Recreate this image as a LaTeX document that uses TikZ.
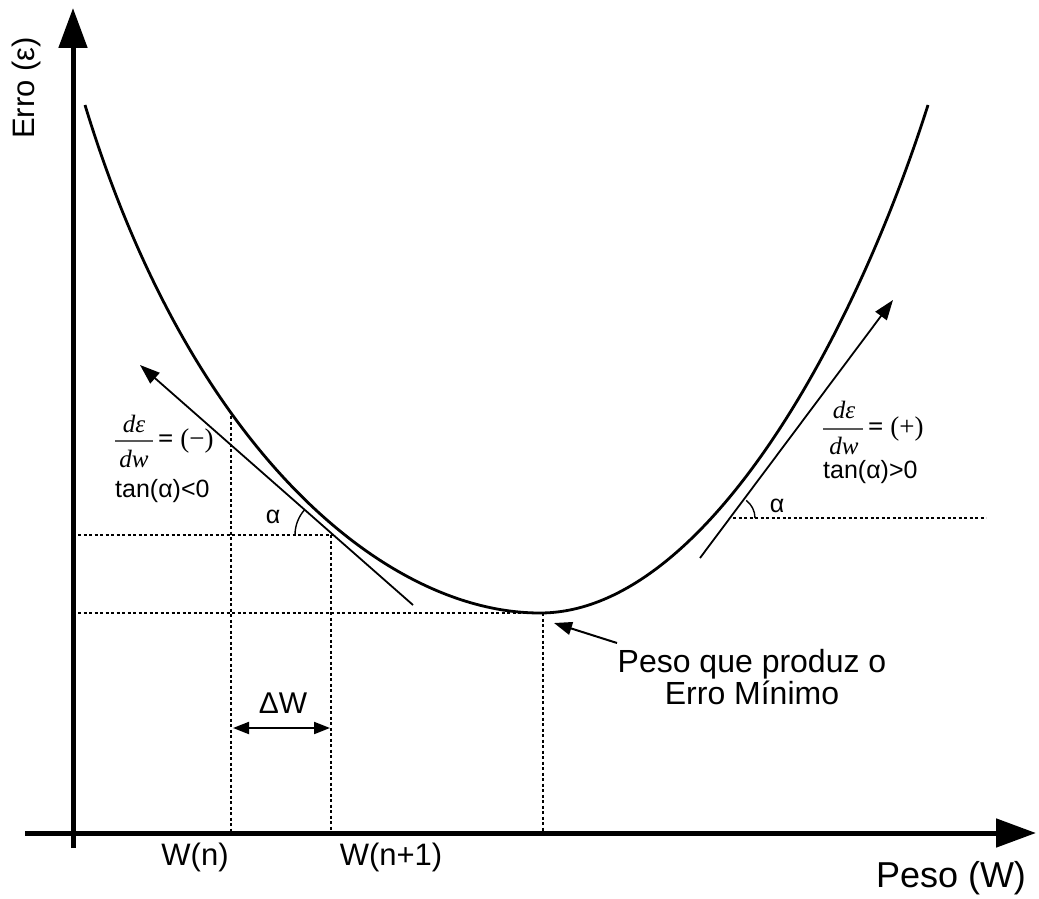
\documentclass[tikz,border=0pt]{standalone}
\usepackage{fontspec}
\setmainfont{Liberation Sans}
\newfontfamily\tms{Liberation Serif}
\usetikzlibrary{arrows.meta}
\begin{document}
\begin{tikzpicture}[x=1pt,y=-1pt,
  axis/.style={line width=5pt,-{Triangle[length=40pt,width=28pt]}},
  curve/.style={line width=2.8pt},
  tang/.style={line width=1.8pt,-{Triangle[length=20pt,width=14pt]}},
  guide/.style={line width=1.4pt,dash pattern=on 3pt off 2.5pt},
  lbl/.style={font=\fontsize{30}{34}\selectfont,inner sep=0pt},
  sm/.style={font=\fontsize{25}{28}\selectfont,inner sep=0pt},
  fracpart/.style={font=\fontsize{25}{27}\selectfont\tms\itshape,inner sep=0pt},
  fracrest/.style={font=\fontsize{27}{28}\selectfont\tms,inner sep=0pt,anchor=west},
  fracbar/.style={line width=2pt,black!65}]
\useasboundingbox (0,0) rectangle (1039,899);
% axes
\coordinate (yb) at (73,848);
\coordinate (yt) at (73,8);
\coordinate (xl) at (25,833);
\coordinate (xr) at (1036,833);
\draw[axis] (yb) -- (yt);
\draw[axis] (xl) -- (xr);
\node[lbl,rotate=90,font=\fontsize{31}{34}\selectfont] (ylab) at (26,88) {Erro (ε)};
\node[lbl,font=\fontsize{36}{40}\selectfont] (xlab) at (951,878) {Peso (W)};
% curve
\coordinate (c0) at (85,105);
\coordinate (cm) at (540,613);
\coordinate (c1) at (928,105);
\draw[curve] (c0) .. controls (190,450) and (385,613) .. (cm)
  .. controls (700,613) and (850,350) .. (c1);
% guides
\coordinate (h1a) at (78,535); \coordinate (h1b) at (333,535);
\coordinate (h2a) at (78,613);
\coordinate (v1a) at (231,416); \coordinate (v1b) at (231,833);
\coordinate (v2a) at (331,535); \coordinate (v2b) at (331,833);
\coordinate (v3b) at (543,833); \coordinate (v3a) at (543,613);
\coordinate (h3a) at (733,518); \coordinate (h3b) at (986,518);
\draw[guide] (h1a) -- (h1b);
\draw[guide] (h2a) -- (cm);
\draw[guide] (v1a) -- (v1b);
\draw[guide] (v2a) -- (v2b);
\draw[guide] (v3a) -- (v3b);
\draw[guide] (h3a) -- (h3b);
% tangents
\coordinate (t1a) at (413,605); \coordinate (t1b) at (140,365);
\coordinate (t2a) at (700,558); \coordinate (t2b) at (893,300);
\draw[tang] (t1a) -- (t1b);
\draw[tang] (t2a) -- (t2b);
% angle arcs
\draw[line width=1.4pt] (295,535) arc[start angle=180,end angle=221.3,radius=38];
\draw[line width=1.4pt] (755,518) arc[start angle=0,end angle=-53,radius=22];
\node[sm] (a1) at (273,517) {α};
\node[sm] (a2) at (777,506) {α};
% left labels
\node[fracpart] (n1) at (134,424) {dε};
\coordinate (b1a) at (115,441); \coordinate (b1b) at (153,441);
\draw[fracbar] (b1a) -- (b1b);
\node[fracpart] (d1) at (134,459) {dw};
\node[fracrest] (r1) at (158,441) {\textbf{=} (−)};
\node[sm,anchor=west] (tn1) at (115,491) {tan(α)<0};
% right labels
\node[fracpart] (n2) at (844,410) {dε};
\coordinate (b2a) at (823,429); \coordinate (b2b) at (863,429);
\draw[fracbar] (b2a) -- (b2b);
\node[fracpart] (d2) at (844,446) {dw};
\node[fracrest] (r2) at (868,429) {\textbf{=} (+)};
\node[sm,anchor=west] (tn2) at (823,472) {tan(α)>0};
% delta W
\coordinate (dwa) at (233,728); \coordinate (dwb) at (330,728);
\draw[line width=2pt,{Triangle[length=16pt,width=12pt]}-{Triangle[length=16pt,width=12pt]}] (dwa) -- (dwb);
\node[lbl,font=\fontsize{30}{34}\selectfont] (dw) at (283,703) {ΔW};
% axis ticks labels
\node[lbl,font=\fontsize{31}{34}\selectfont] (wn) at (195,857) {W(n)};
\node[lbl,font=\fontsize{31}{34}\selectfont] (wn1) at (391,857) {W(n+1)};
% min annotation
\node[lbl,align=center,font=\fontsize{32}{32}\selectfont] (pm) at (752,677) {Peso que produz o\\Erro Mínimo};
\coordinate (pa) at (617,643); \coordinate (pb) at (554,623);
\draw[line width=2pt,-{Triangle[length=18pt,width=13pt]}] (pa) -- (pb);
\end{tikzpicture}
\end{document}
